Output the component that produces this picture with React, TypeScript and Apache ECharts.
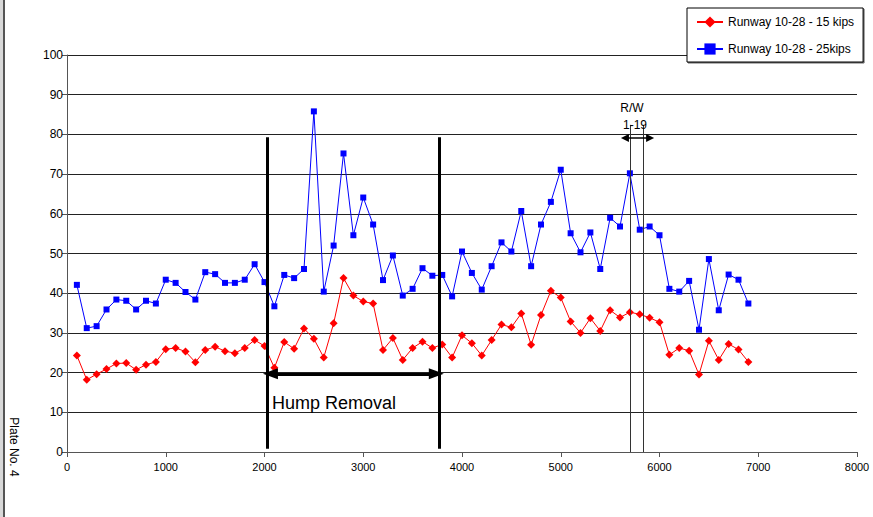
import React, { useEffect, useRef } from "react";
import * as echarts from "echarts";

const distances = [
  100, 200, 300, 400, 500, 600, 700, 800, 900, 1000,
  1100, 1200, 1300, 1400, 1500, 1600, 1700, 1800, 1900, 2000,
  2100, 2200, 2300, 2400, 2500, 2600, 2700, 2800, 2900, 3000,
  3100, 3200, 3300, 3400, 3500, 3600, 3700, 3800, 3900, 4000,
  4100, 4200, 4300, 4400, 4500, 4600, 4700, 4800, 4900, 5000,
  5100, 5200, 5300, 5400, 5500, 5600, 5700, 5800, 5900, 6000,
  6100, 6200, 6300, 6400, 6500, 6600, 6700, 6800, 6900,
];

const kips15 = [
  24.3, 18.2, 19.6, 20.9, 22.3, 22.4, 20.7, 22.0, 22.7, 25.9,
  26.2, 25.3, 22.6, 25.7, 26.5, 25.4, 24.9, 26.2, 28.2, 26.7,
  21.2, 27.7, 26.0, 31.1, 28.5, 23.8, 32.4, 43.8, 39.4, 37.9,
  37.4, 25.7, 28.7, 23.2, 26.2, 27.8, 26.2, 27.1, 23.8, 29.4,
  27.4, 24.3, 28.2, 32.1, 31.4, 34.9, 27.0, 34.5, 40.6, 38.9,
  32.9, 30.0, 33.7, 30.5, 35.7, 33.9, 35.2, 34.7, 33.8, 32.7,
  24.5, 26.2, 25.5, 19.5, 28.0, 23.2, 27.2, 25.8, 22.7,
];

const kips25 = [
  42.1, 31.2, 31.7, 35.9, 38.4, 38.1, 35.9, 38.1, 37.4, 43.4,
  42.6, 40.3, 38.4, 45.3, 44.8, 42.6, 42.6, 43.4, 47.3, 42.8,
  36.7, 44.6, 43.8, 46.1, 85.8, 40.4, 52.0, 75.2, 54.6, 64.1,
  57.3, 43.3, 49.5, 39.4, 41.1, 46.3, 44.4, 44.6, 39.2, 50.5,
  45.1, 40.9, 46.8, 52.8, 50.5, 60.7, 46.8, 57.3, 63.0, 71.1,
  55.1, 50.3, 55.3, 46.1, 59.0, 56.8, 70.2, 56.0, 56.8, 54.6,
  41.1, 40.4, 43.1, 30.8, 48.6, 35.7, 44.7, 43.4, 37.4,
];

const seriesNames = ["Runway 10-28 - 15 kips", "Runway 10-28 - 25kips"];

// annotation positions (data units)
const humpStart = 2030;
const humpEnd = 3770;
const humpTop = 79.3;
const humpArrowY = 19.7;
const rwStart = 5700;
const rwEnd = 5835;
const rwTop = 82.4;
const rwArrowY = 79.1;

const FONT = "Liberation Sans, Arial, sans-serif";

export default function App() {
  const ref = useRef<HTMLDivElement>(null);

  useEffect(() => {
    if (!ref.current) return;
    const chart = echarts.init(ref.current, null, { renderer: "svg" });
    const pair = (a: number[], b: number[]) => a.map((x, i) => [x, b[i]]);

    const noSym = { symbol: "none" };
    const option: any = {
      animation: false,
      backgroundColor: "#fff",
      textStyle: { fontFamily: FONT },
      grid: { left: 67, right: 16, top: 55, bottom: 65, containLabel: false },
      legend: {
        orient: "vertical",
        left: 687,
        top: 8,
        data: seriesNames,
        backgroundColor: "#fff",
        borderColor: "#000",
        borderWidth: 1,
        padding: [8, 9, 7, 9],
        itemGap: 15,
        itemWidth: 26,
        itemHeight: 14,
        shadowColor: "rgba(0,0,0,0.6)",
        shadowOffsetX: 1,
        shadowOffsetY: 1,
        shadowBlur: 0,
        textStyle: { fontFamily: FONT, fontSize: 12, color: "#000" },
      },
      xAxis: {
        type: "value",
        min: 0,
        max: 8000,
        interval: 1000,
        axisLine: { show: true, lineStyle: { color: "#555", width: 1 } },
        axisTick: { show: true, length: 5, lineStyle: { color: "#555" } },
        axisLabel: {
          color: "#000",
          fontSize: 11,
          fontFamily: FONT,
          margin: 9,
          formatter: (v: number) => String(v),
        },
        splitLine: { show: false },
      },
      yAxis: {
        type: "value",
        min: 0,
        max: 100,
        interval: 10,
        axisLine: { show: true, lineStyle: { color: "#555", width: 1 } },
        axisTick: { show: true, length: 5, lineStyle: { color: "#555" } },
        axisLabel: { color: "#000", fontSize: 12, fontFamily: FONT, margin: 4 },
        splitLine: { show: true, lineStyle: { color: "#222", width: 1 } },
      },
      series: [
        {
          name: seriesNames[0],
          type: "line",
          data: pair(distances, kips15),
          symbol: "diamond",
          symbolSize: 8,
          itemStyle: { color: "#ff0000" },
          lineStyle: { color: "#ff0000", width: 1 },
          z: 3,
        },
        {
          name: seriesNames[1],
          type: "line",
          data: pair(distances, kips25),
          symbol: "rect",
          symbolSize: 6,
          itemStyle: { color: "#0000ff" },
          lineStyle: { color: "#0000ff", width: 1 },
          z: 4,
        },
        {
          name: "annotations",
          type: "line",
          data: [],
          silent: true,
          z: 5,
          markLine: {
            silent: true,
            animation: false,
            label: { show: false },
            emphasis: { disabled: true },
            data: [
              [
                { coord: [humpStart, 0.8], ...noSym, lineStyle: { color: "#000", width: 3, type: "solid" } },
                { coord: [humpStart, humpTop], ...noSym },
              ],
              [
                { coord: [humpEnd, 0.8], ...noSym, lineStyle: { color: "#000", width: 3, type: "solid" } },
                { coord: [humpEnd, humpTop], ...noSym },
              ],
              [
                {
                  coord: [humpStart + 30, humpArrowY],
                  symbol: "triangle",
                  symbolSize: [11, 15],
                  lineStyle: { color: "#000", width: 3, type: "solid" },
                  itemStyle: { color: "#000" },
                },
                { coord: [humpEnd - 30, humpArrowY], symbol: "triangle", symbolSize: [11, 15], itemStyle: { color: "#000" } },
              ],
              [
                { coord: [rwStart, 0], ...noSym, lineStyle: { color: "#333", width: 1, type: "solid" } },
                { coord: [rwStart, rwTop], ...noSym },
              ],
              [
                { coord: [rwEnd, 0], ...noSym, lineStyle: { color: "#333", width: 1, type: "solid" } },
                { coord: [rwEnd, rwTop], ...noSym },
              ],
              [
                {
                  coord: [5650, rwArrowY],
                  symbol: "triangle",
                  symbolSize: [8, 8],
                  lineStyle: { color: "#000", width: 1.5, type: "solid" },
                  itemStyle: { color: "#000" },
                },
                { coord: [5905, rwArrowY], symbol: "triangle", symbolSize: [8, 8], itemStyle: { color: "#000" } },
              ],
            ],
          },
        },
      ],
      graphic: [
        {
          type: "text",
          x: 14,
          y: 447,
          z: 100,
          rotation: -Math.PI / 2,
          style: { text: "Plate No. 4", font: `12px ${FONT}`, fill: "#000", align: "center", verticalAlign: "middle" },
          silent: true,
        },
        {
          type: "text",
          x: 272,
          y: 403,
          z: 100,
          style: { text: "Hump Removal", font: `18px ${FONT}`, fill: "#000", align: "left", verticalAlign: "middle" },
          silent: true,
        },
        {
          type: "text",
          x: 632,
          y: 108,
          z: 100,
          style: { text: "R/W", font: `12px ${FONT}`, fill: "#000", align: "center", verticalAlign: "middle" },
          silent: true,
        },
        {
          type: "text",
          x: 635,
          y: 125,
          z: 100,
          style: { text: "1-19", font: `12px ${FONT}`, fill: "#000", align: "center", verticalAlign: "middle" },
          silent: true,
        },
      ],
    };
    chart.setOption(option);
    return () => chart.dispose();
  }, []);

  return (
    <div style={{ position: "fixed", left: 0, top: 0, width: 873, height: 517, background: "#fff" }}>
      <div ref={ref} style={{ position: "absolute", left: 0, top: 0, width: 873, height: 517 }} />
      <div
        style={{
          position: "absolute",
          left: 0,
          top: 0,
          width: 3,
          height: 517,
          background: "#d8d8d8",
          borderRight: "2px solid #555",
        }}
      />
    </div>
  );
}
